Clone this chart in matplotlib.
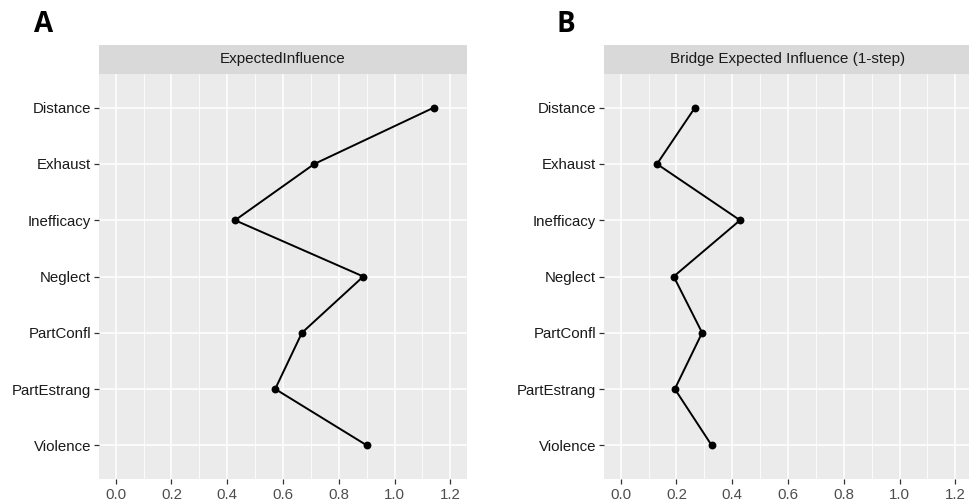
import numpy as np
import matplotlib
matplotlib.use("Agg")
import matplotlib.pyplot as plt
from matplotlib.ticker import MultipleLocator

plt.rcParams['font.family'] = ['Liberation Sans', 'DejaVu Sans']

nodes = ["Distance", "Exhaust", "Inefficacy", "Neglect", "PartConfl", "PartEstrang", "Violence"]
ei_vals = [1.140, 0.712, 0.428, 0.888, 0.668, 0.572, 0.900]
bei_vals = [0.266, 0.130, 0.428, 0.190, 0.292, 0.194, 0.326]
xticks = [0.0, 0.2, 0.4, 0.6, 0.8, 1.0, 1.2]

W, H = 970, 504
fig = plt.figure(figsize=(W / 100, H / 100), dpi=100)


def px_rect(x0, y0, x1, y1):
    # convert pixel box (top-left origin) to figure fraction
    return [x0 / W, 1 - y1 / H, (x1 - x0) / W, (y1 - y0) / H]


def panel(x0, title, vals, letter, letter_x):
    ax = fig.add_axes(px_rect(x0, 74, x0 + 368, 479))
    ax.set_facecolor("#EBEBEB")
    for s in ax.spines.values():
        s.set_visible(False)
    ypos = np.arange(len(nodes))
    ax.set_xlim(-0.06, 1.26)
    ax.set_ylim(len(nodes) - 1 + 0.6, -0.6)
    ax.xaxis.set_minor_locator(MultipleLocator(0.1))
    ax.set_xticks(xticks)
    ax.set_xticklabels([f"{t:.1f}" for t in xticks])
    ax.set_yticks(ypos)
    ax.set_yticklabels(nodes)
    ax.grid(which="major", color="white", lw=1.1)
    ax.grid(which="minor", axis="x", color="white", lw=0.55)
    ax.set_axisbelow(True)
    ax.tick_params(which="major", length=3.5, width=0.9, color="#333333", labelsize=10.8)
    ax.tick_params(which="minor", length=0)
    ax.tick_params(axis="x", labelcolor="#4D4D4D", pad=3)
    ax.tick_params(axis="y", labelcolor="#1A1A1A", pad=2)
    ax.plot(vals, ypos, color="black", lw=1.4, zorder=3)
    ax.scatter(vals, ypos, s=32, color="black", zorder=4, linewidths=0)

    sx = fig.add_axes(px_rect(x0, 45, x0 + 368, 74))
    sx.set_facecolor("#D9D9D9")
    sx.set_xticks([])
    sx.set_yticks([])
    for s in sx.spines.values():
        s.set_visible(False)
    sx.text(0.5, 0.5, title, ha="center", va="center", fontsize=11, color="#1A1A1A",
            transform=sx.transAxes)

    fig.text(letter_x / W, 1 - 32 / H, letter, fontsize=20, fontweight="bold",
             family=["Open Sans", "DejaVu Sans"], ha="left", va="baseline")


panel(99, "ExpectedInfluence", ei_vals, "A", 34)
panel(604, "Bridge Expected Influence (1-step)", bei_vals, "B", 557)

fig.savefig("out.png", dpi=100, facecolor="white")
